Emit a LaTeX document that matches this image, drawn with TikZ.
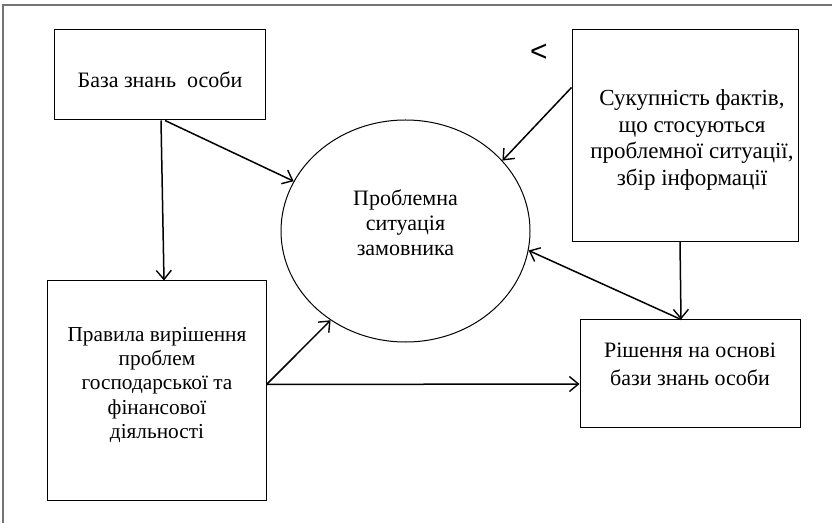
\documentclass[tikz,border=0pt]{standalone}
\usepackage{fontspec}
\setmainfont{Liberation Serif}
\newfontfamily\ltfont{Liberation Sans}
\usetikzlibrary{shapes.geometric,arrows.meta,calc}
\begin{document}
\begin{tikzpicture}[x=1bp,y=-1bp,
  box/.style={draw=black,line width=1bp,rectangle,inner sep=0pt},
  txt/.style={align=center,inner sep=0pt},
  conn/.style={draw=black,line width=1.5bp,-{Straight Barb[length=9bp,width=15bp,line width=1.4bp]}},
  frame/.style={draw=black!55,line width=1.6bp}]
\useasboundingbox (0,0) rectangle (832,523);
\draw[frame] (832,5) -- (3,5) -- (3,523);
% boxes
\node[box,minimum width=210bp,minimum height=90bp] (b1) at (160,75) {};
\node[box,minimum width=218bp,minimum height=219bp] (b2) at (157,390.5) {};
\node[box,minimum width=226bp,minimum height=211bp] (b3) at (685,135.5) {};
\node[box,minimum width=220bp,minimum height=107bp] (b4) at (690,373.5) {};
\node[draw=black,line width=1bp,ellipse,inner sep=0pt,minimum width=249bp,minimum height=222bp] (ell) at (405.5,231) {};
% texts
\node[txt,font=\fontsize{22bp}{25bp}\selectfont] (t1) at (160,80) {База знань\ \ особи};
\node[txt,font=\fontsize{21.3bp}{24.2bp}\selectfont] (t2) at (157,385) {Правила вирішення\\проблем\\господарської та\\фінансової\\діяльності};
\node[txt,font=\fontsize{23bp}{26.5bp}\selectfont] (t3) at (692,140) {Сукупність фактів,\\що стосуються\\проблемної ситуації,\\збір інформації};
\node[txt,font=\fontsize{22bp}{28bp}\selectfont] (t4) at (690,364) {Рішення на основі\\бази знань особи};
\node[txt,font=\fontsize{22bp}{25bp}\selectfont] (t5) at (405.5,223) {Проблемна\\ситуація\\замовника};
\node[font=\ltfont\fontsize{30bp}{34bp}\selectfont,inner sep=0pt] (lt) at (539,53) {<};
% connectors
\draw[conn] ([xshift=1bp]b1.south) -- ([xshift=7bp]b2.north);
\draw[conn] ([xshift=5bp]b1.south) -- (ell.156);
\draw[conn] ([yshift=48bp]b3.west) -- (ell.36);
\draw[conn] ([xshift=-5bp]b3.south) -- ([xshift=-9bp]b4.north);
\draw[conn] ([xshift=-9bp]b4.north) -- (ell.-9);
\draw[conn] ([yshift=6bp]b2.east) -- (ell.230);
\draw[conn] ([yshift=6bp]b2.east) -- ([yshift=-10.5bp]b4.west);
\end{tikzpicture}
\end{document}
